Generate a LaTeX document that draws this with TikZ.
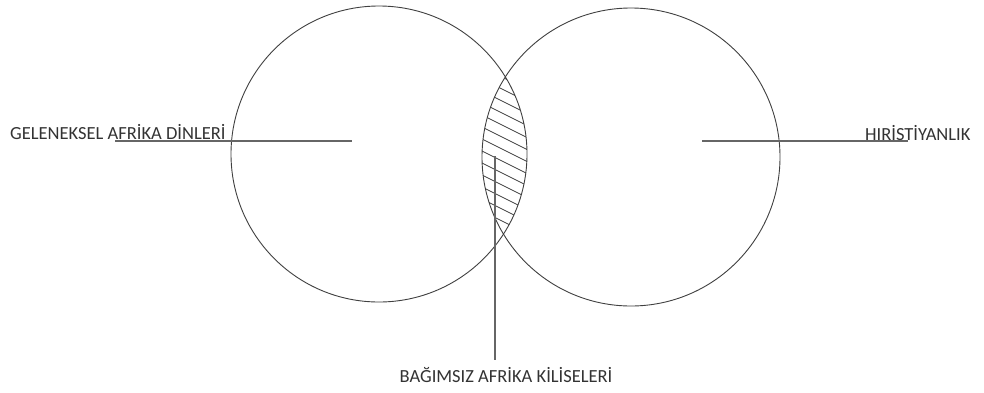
\documentclass[tikz,border=0pt]{standalone}
\usepackage{fontspec}
\setmainfont{Carlito}
\begin{document}
\begin{tikzpicture}[x=1pt,y=-1pt,
  ring/.style={circle,draw=black!75,line width=0.9pt,inner sep=0pt},
  lead/.style={draw=black!60,line width=1.1pt},
  hatch/.style={draw=black!75,line width=0.7pt},
  lbl/.style={font=\fontsize{18.5}{19}\selectfont,text=black!80,inner sep=0pt}]
\useasboundingbox (0,0) rectangle (984,392);
\fill[white] (0,0) rectangle (984,392);
\begin{scope}
\clip (379,154) circle[radius=148pt];
\clip (631,157) circle[radius=149pt];
\foreach \i in {-14,...,14} \draw[hatch] (440,70+\i*12) -- (560,130+\i*12);
\end{scope}
\node[ring,minimum size=296pt] (L) at (379,154) {};
\node[ring,minimum size=298pt] (R) at (631,157) {};
\node[lbl,anchor=west] (tl) at (10,132) {GELENEKSEL AFRİKA DİNLERİ};
\node[lbl,anchor=west] (tr) at (865,133) {HIRİSTİYANLIK};
\node[lbl] (tb) at (506,375) {BAĞIMSIZ AFRİKA KİLİSELERİ};
\coordinate (la) at (115,141);
\coordinate (lb) at (352,141);
\coordinate (ra) at (702,141);
\coordinate (rb) at (908,141);
\coordinate (va) at (495,156);
\coordinate (vb) at (495,360);
\draw[lead] (la) -- (lb);
\draw[lead] (ra) -- (rb);
\draw[lead] (va) -- (vb);
\end{tikzpicture}
\end{document}
